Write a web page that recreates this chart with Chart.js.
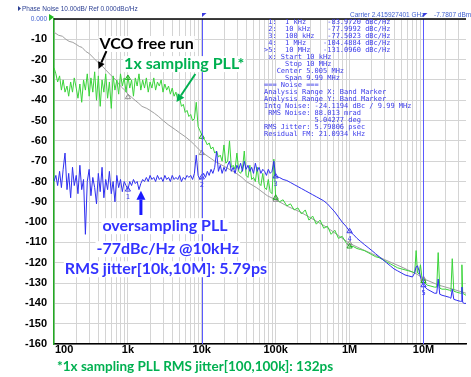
<!DOCTYPE html>
<html><head><meta charset="utf-8">
<script src="https://cdn.jsdelivr.net/npm/chart.js@4.4.1/dist/chart.umd.min.js"></script>
<style>html,body{margin:0;padding:0;background:#fff;}canvas{display:block;}</style>
</head><body>
<canvas id="c" width="471" height="377"></canvas>
<script>
// ---------- data ----------
const freqs = [
100,106,112,119,126,133,141,150,158,168,
178,188,200,211,224,237,251,266,282,299,
316,335,355,376,398,422,447,473,501,531,
562,596,631,668,708,750,794,841,891,944,
1000,1059,1122,1189,1259,1334,1413,1496,1585,1679,
1778,1884,1995,2113,2239,2371,2512,2661,2818,2985,
3162,3350,3548,3758,3981,4217,4467,4732,5012,5309,
5623,5957,6310,6683,7079,7499,7943,8414,8913,9441,
10000,
10593,11220,11885,12589,13335,14125,14962,15849,16788,17783,
18836,19953,21135,22387,23714,25119,26607,28184,29854,31623,
33497,35481,37584,39811,42170,44668,47315,50119,53088,56234,
59566,63096,66834,70795,74989,79433,84140,89125,94406,100000,
112202,125893,141254,158489,177828,199526,223872,251189,281838,316228,
354813,398107,446684,501187,562341,630957,707946,794328,891251,1000000,
1.12e6,1.26e6,1.41e6,1.58e6,1.78e6,2.0e6,2.24e6,2.51e6,2.82e6,3.16e6,
3.55e6,3.98e6,4.47e6,5.01e6,5.62e6,6.31e6,7.08e6,7.6e6,7.95e6,8.3e6,
8.7e6,9.1e6,9.5e6,1.0e7,1.05e7,1.12e7,1.26e7,1.41e7,1.51e7,1.58e7,
1.66e7,1.78e7,2.0e7,2.24e7,2.35e7,2.45e7,2.57e7,2.82e7,3.16e7,3.24e7,
3.31e7,3.39e7,3.55e7,3.76e7
];
const greenPLL = [
-24,-27,-31,-28,-35,-30,-36,-33,-38,-31,
-36,-29,-34,-39,-32,-41,-30,-35,-27,-38,
-29,-36,-26,-40,-28,-43,-30,-36,-27,-39,
-31,-44,-28,-35,-30,-37,-27,-33,-29,-36,
-28,-34,-30,-38,-29,-33,-27,-35,-30,-34,
-29,-36,-31,-34,-29,-35,-31,-33,-30,-36,
-32,-35,-33,-37,-34,-38,-36,-40,-39,-43,
-42,-46,-45,-48,-47,-50,-49,-41,-53,-55,
-57,
-59,-60,-62,-61,-64,-63,-66,-65,-68,-67,
-70,-62,-71,-70,-60,-73,-72,-74,-66,-75,
-76,-74,-65,-77,-78,-72,-79,-78,-80,-73,
-81,-82,-76,-83,-84,-79,-85,-86,-69,-88,
-90,-89,-92,-91,-94,-93,-96,-94,-99,-97,
-101,-99,-103,-102,-106,-104,-108,-107,-110,-112,
-112,-113,-113.5,-114,-115,-116,-117,-117.5,-118.5,-119.5,
-120.5,-121.5,-122.5,-123,-123.5,-124,-124.5,-125,-114,-125,
-125.5,-121,-127,-129,-130,-131,-131.5,-132,-132,-115,
-132.5,-133,-133,-133.5,-134,-118,-134,-134.5,-135,-135,
-121,-135,-135.5,-136
];
const bluePLL = [
-80,-77,-82,-75,-83,-74,-66,-84,-76,-88,
-73,-82,-77,-86,-72,-84,-79,-106,-80,-74,
-87,-78,-83,-91,-76,-85,-73,-88,-79,-84,
-75,-86,-80,-90,-77,-83,-79,-85,-80,-82,
-84,-80,-82,-79,-81,-80,-84,-81,-79,-80,
-78,-80,-77,-79,-78,-80,-77,-79,-78,-80,
-77,-79,-78,-80,-77,-79,-78,-79,-77,-80,
-78,-79,-77,-78,-77,-79,-76,-67,-77,-79,
-78,
-76,-78,-75,-77,-74,-76,-73,-65,-75,-72,
-76,-73,-75,-72,-70,-75,-73,-76,-72,-74,
-71,-75,-70,-74,-72,-75,-73,-76,-71,-75,
-73,-76,-74,-75,-77,-74,-76,-75,-70,-77.5,
-78,-79,-79.5,-80.5,-81.5,-82.5,-83.5,-84.5,-85.5,-86.5,
-87.5,-88.5,-89.5,-91,-93,-95,-97.5,-100,-102,-104.5,
-106,-108,-109.5,-111,-112.5,-114,-115.5,-117,-118.5,-120,
-121.5,-123,-124,-125,-126,-126.5,-127,-125,-122,-121.5,
-124,-127,-129,-131,-132,-133,-134,-135,-135,-128,
-135.5,-136,-136.5,-137,-137.5,-133,-138,-138.5,-139,-139,
-132,-139.5,-140,-140
];
const vcoFreqs = [
100,115,130,145,160,180,200,220,240,270,
300,350,410,460,500,600,690,770,850,930,
1000,1120,1250,1400,1550,1800,2000,2300,2600,3000,
3500,4400,5000,6000,7000,8000,9000,10000,12500,15000,
20000,28000,35000,40000,55000,77000,100000,150000,215000,300000,
490000,700000,1000000,1500000,2000000,3000000,5000000,8000000,11000000,16000000,
25000000,37600000
];
const vcoFree = [
-6.5,-8,-8.5,-10,-11,-11.5,-12.5,-13.5,-14,-16,
-17,-19.5,-22,-23.5,-25,-28,-30,-32.5,-34,-35.5,
-37,-38.5,-40,-41.5,-43,-44,-45,-46.5,-48,-50,
-52,-54.5,-56,-58,-60,-62,-64,-65.5,-68,-70,
-72.5,-75.5,-78,-80,-83,-87,-89,-92.5,-95,-98,
-102.5,-106.5,-110.5,-113.5,-115.5,-118.5,-122,-125.5,-128.5,-131,
-133,-135
];
const markerFreqs = [1e3, 1e4, 1e5, 1e6, 1e7];
const markerBlue = [-83.972, -77.9992, -77.5023, -104.4884, -131.096];
const markerGreen = [-29, -58, -88, -112, -129];
const markerGray = [-38.5, -66, -89, -110.5, -128];
const xTickValues = [1e2, 1e3, 1e4, 1e5, 1e6, 1e7];
const xTickLabels = ['100', '1k', '10k', '100k', '1M', '10M'];
const bandRange = [1e4, 1e7];
const tableLines = [
' 1:  1 kHz     -83.9720 dBc/Hz',
' 2:  10 kHz    -77.9992 dBc/Hz',
' 3:  100 kHz   -77.5023 dBc/Hz',
' 4:  1 MHz    -104.4884 dBc/Hz',
'>5:  10 MHz   -131.0960 dBc/Hz',
' x: Start 10 kHz',
'     Stop 10 MHz',
'   Center 5.005 MHz',
'     Span 9.99 MHz',
'=== Noise ===',
'Analysis Range X: Band Marker',
'Analysis Range Y: Band Marker',
'Intg Noise: -24.1194 dBc / 9.99 MHz',
' RMS Noise: 88.013 mrad',
'            5.04277 deg',
'RMS Jitter: 5.79806 psec',
'Residual FM: 21.0934 kHz'
];
const headerLeft = 'Phase Noise 10.00dB/ Ref 0.000dBc/Hz';
const headerCarrier = 'Carrier 2.415927401 GHz';
const headerPower = '-7.7807 dBm';
const footnote = '*1x sampling PLL RMS jitter[100,100k]: 132ps';
const notes = [
  {text:'VCO free run', f:412, db:-12.3, color:'#000000'},
  {text:'1x sampling PLL*', f:889, db:-22.2, color:'#00b050'},
  {text:'oversampling PLL', f:452, db:-102, color:'#3333ff'},
  {text:'-77dBc/Hz @10kHz', f:376, db:-113.3, color:'#3333ff'},
  {text:'RMS jitter[10k,10M]: 5.79ps', f:140, db:-123.2, color:'#3333ff'}
];
const arrows = [
  {from:[512,-15.8], to:[400,-24.6], color:'#000000', w:2, hl:7, hw:7},
  {from:[8170,-27.1], to:[4550,-40.9], color:'#00b050', w:2, hl:8, hw:8},
  {from:[1500,-96.5], to:[1500,-84.5], color:'#1a1aff', w:3, hl:9, hw:9}
];

// ---------- helpers ----------
const pts = (xs, ys) => xs.map((v, i) => ({x: v, y: ys[i]}));
function drawArrow(ctx, x1, y1, x2, y2, color, width, hl, hw) {
  const ang = Math.atan2(y2 - y1, x2 - x1);
  const bx = x2 - hl * Math.cos(ang), by = y2 - hl * Math.sin(ang);
  ctx.strokeStyle = color; ctx.lineWidth = width;
  ctx.beginPath(); ctx.moveTo(x1, y1); ctx.lineTo(bx, by); ctx.stroke();
  ctx.fillStyle = color; ctx.beginPath(); ctx.moveTo(x2, y2);
  ctx.lineTo(bx + hw / 2 * Math.sin(ang), by - hw / 2 * Math.cos(ang));
  ctx.lineTo(bx - hw / 2 * Math.sin(ang), by + hw / 2 * Math.cos(ang));
  ctx.closePath(); ctx.fill();
}

const overlay = {
  id: 'overlay',
  beforeDraw(chart) {
    const c = chart.ctx; c.save(); c.fillStyle = '#fff'; c.fillRect(0, 0, chart.width, chart.height); c.restore();
  },
  afterDatasetsDraw(chart) {
    const ctx = chart.ctx, a = chart.chartArea, x = chart.scales.x, y = chart.scales.y;
    ctx.save();
    bandRange.forEach(f => {
      const px = Math.round(x.getPixelForValue(f)) + 0.5;
      ctx.strokeStyle = '#5a5aff'; ctx.lineWidth = 1;
      ctx.beginPath(); ctx.moveTo(px, a.top); ctx.lineTo(px, a.bottom); ctx.stroke();
      ctx.fillStyle = '#3a3ae0';
      ctx.beginPath(); ctx.moveTo(px - 0.5, a.top - 6); ctx.lineTo(px + 4, a.top - 6); ctx.lineTo(px - 0.5, a.top - 2); ctx.closePath(); ctx.fill();
    });
    ctx.font = '7px "DejaVu Sans Mono"'; ctx.fillStyle = '#3b3bea'; ctx.textAlign = 'center'; ctx.textBaseline = 'middle';
    markerFreqs.forEach((f, i) => {
      ctx.fillText(String(i + 1), x.getPixelForValue(f), y.getPixelForValue(markerBlue[i]) + 8);
    });
    ctx.strokeStyle = '#000'; ctx.lineWidth = 1.5;
    ctx.beginPath(); ctx.moveTo(a.left, a.top); ctx.lineTo(a.right, a.top); ctx.stroke();
    ctx.font = 'bold 16px Lato'; ctx.textAlign = 'left'; ctx.textBaseline = 'middle';
    notes.forEach(n => {
      const px = x.getPixelForValue(n.f), py = y.getPixelForValue(n.db);
      const w = ctx.measureText(n.text).width;
      ctx.fillStyle = '#fff'; ctx.fillRect(px - 1, py - 8, w + 2, 16);
      ctx.fillStyle = n.color; ctx.fillText(n.text, px, py);
    });
    arrows.forEach(r => {
      drawArrow(ctx, x.getPixelForValue(r.from[0]), y.getPixelForValue(r.from[1]),
        x.getPixelForValue(r.to[0]), y.getPixelForValue(r.to[1]), r.color, r.w, r.hl, r.hw);
    });
    ctx.restore();
  },
  afterDraw(chart) {
    const ctx = chart.ctx, a = chart.chartArea, x = chart.scales.x;
    ctx.save();
    ctx.fillStyle = '#2b3f93';
    ctx.beginPath(); ctx.moveTo(18, 6); ctx.lineTo(21, 8.5); ctx.lineTo(18, 11); ctx.closePath(); ctx.fill();
    ctx.font = '6.5px "Liberation Sans"'; ctx.textAlign = 'left'; ctx.textBaseline = 'alphabetic';
    ctx.fillText(headerLeft, 22, 11);
    ctx.fillStyle = '#4060d0';
    ctx.fillText(headerCarrier, 350, 17);
    ctx.fillText(headerPower, 434, 17);
    ctx.fillStyle = '#22bb22';
    ctx.beginPath(); ctx.moveTo(49, 14); ctx.lineTo(54, 17); ctx.lineTo(49, 21); ctx.closePath(); ctx.fill();
    ctx.font = '7px "DejaVu Sans Mono"'; ctx.fillStyle = '#3b3bea'; ctx.textBaseline = 'middle';
    tableLines.forEach((t, i) => ctx.fillText(t, 264, 22.5 + 7 * i));
    ctx.font = 'bold 11px "Liberation Sans"'; ctx.fillStyle = '#000'; ctx.textBaseline = 'alphabetic';
    xTickValues.forEach((v, i) => {
      const px = x.getPixelForValue(v);
      if (i === 0) { ctx.textAlign = 'left'; ctx.fillText(xTickLabels[i], px + 1, a.bottom + 8.5); }
      else { ctx.textAlign = 'center'; ctx.fillText(xTickLabels[i], px, a.bottom + 8.5); }
    });
    ctx.font = 'bold 13.5px Lato'; ctx.fillStyle = '#00b050'; ctx.textAlign = 'left'; ctx.textBaseline = 'middle';
    ctx.fillText(footnote, 57, 367);
    ctx.restore();
  }
};

const triMarker = (data, color, order) => ({
  data: pts(markerFreqs, data), showLine: false, pointStyle: 'triangle', pointRadius: 3,
  pointBorderWidth: 1, pointBorderColor: color, pointBackgroundColor: 'rgba(0,0,0,0)', order: order
});

new Chart(document.getElementById('c'), {
  type: 'line',
  data: {
    datasets: [
      {data: pts(freqs, bluePLL), borderColor: '#2f2ff0', borderWidth: 1, pointRadius: 0, order: 1},
      {data: pts(freqs, greenPLL), borderColor: '#3ad43a', borderWidth: 1, pointRadius: 0, order: 2},
      {data: pts(vcoFreqs, vcoFree), borderColor: '#a0a0a0', borderWidth: 1, pointRadius: 0, order: 3},
      triMarker(markerBlue, '#3b3bea', 0),
      triMarker(markerGreen, '#22aa22', 0),
      triMarker(markerGray, '#909090', 0)
    ]
  },
  options: {
    responsive: false, animation: false, devicePixelRatio: 1, events: [],
    layout: {padding: {top: 19, left: 0, right: 0, bottom: 0}},
    plugins: {legend: {display: false}, tooltip: {enabled: false}},
    scales: {
      x: {
        type: 'logarithmic', min: 100, max: 3.76e7,
        afterBuildTicks(axis) {
          axis.ticks = axis.ticks.filter(t => {
            const m = t.value / Math.pow(10, Math.floor(Math.log10(t.value) + 1e-9));
            return Math.abs(m - Math.round(m)) < 1e-6;
          });
        },
        afterFit(s) { s.height = 33; },
        ticks: {display: false, autoSkip: false},
        grid: {color: '#d4d4d4', lineWidth: 1, drawTicks: false},
        border: {color: '#000', width: 1.5}
      },
      y: {
        min: -160, max: 0,
        afterFit(s) { s.width = 54; },
        ticks: {
          stepSize: 10, padding: 7,
          callback: v => v === 0 ? '0.000' : String(v),
          color: c => c.tick && c.tick.value === 0 ? '#4060d0' : '#000',
          font: c => c.tick && c.tick.value === 0 ? {family: 'Liberation Sans', size: 6.5} : {family: 'Liberation Sans', size: 11, weight: 'bold'}
        },
        grid: {color: '#d4d4d4', lineWidth: 1, drawTicks: false},
        border: {color: '#22aa22', width: 1.5}
      }
    }
  },
  plugins: [overlay]
});
</script>
</body></html>
